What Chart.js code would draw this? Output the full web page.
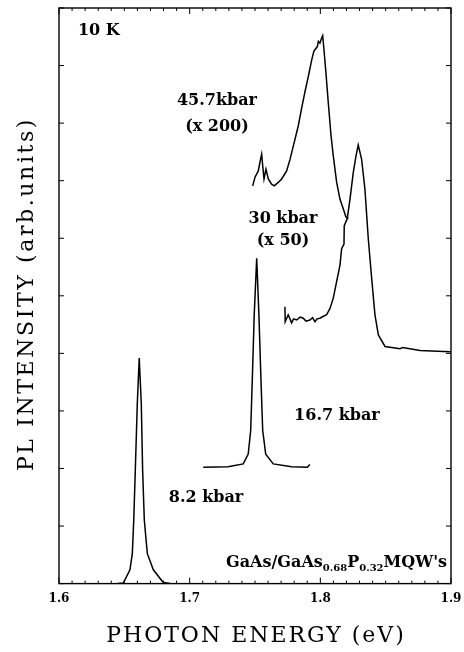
<!DOCTYPE html>
<html>
<head>
<meta charset="utf-8">
<script src="https://cdn.jsdelivr.net/npm/chart.js@4/dist/chart.umd.min.js"></script>
<style>
  body { margin: 0; background: #fff; }
  canvas { display: block; }
</style>
</head>
<body>
<canvas id="pl-chart" width="464" height="652"></canvas>
<script>
// 8.2 kbar
var energy82 = [1.645, 1.6492, 1.6543, 1.6561, 1.6572, 1.6584, 1.6599, 1.6614, 1.663, 1.664, 1.6653, 1.6676, 1.6722, 1.6798, 1.685];
var pl82 = [0, 0.01, 0.24, 0.52, 1.1, 1.97, 3.11, 3.92, 3.11, 1.97, 1.1, 0.52, 0.24, 0.02, 0];

// 16.7 kbar
var energy167 = [1.7104, 1.7293, 1.741, 1.7448, 1.7467, 1.7479, 1.7494, 1.7513, 1.753, 1.7546, 1.7559, 1.7582, 1.764, 1.778, 1.79, 1.792];
var pl167 = [2.02, 2.03, 2.08, 2.25, 2.66, 3.52, 4.67, 5.65, 4.67, 3.52, 2.66, 2.25, 2.08, 2.03, 2.02, 2.07];

// 30 kbar (x 50)
var energy30 = [1.7729, 1.7731, 1.7754, 1.778, 1.7795, 1.7819, 1.7845, 1.7869, 1.789, 1.792, 1.794, 1.7959, 1.7975, 1.7997, 1.802, 1.8048,
    1.8074, 1.8099, 1.8125, 1.815, 1.8163, 1.8181, 1.8183, 1.8206, 1.8227, 1.8252, 1.8273, 1.829, 1.8316, 1.8341, 1.8367, 1.8393,
    1.8418, 1.8444, 1.8495, 1.861, 1.863, 1.8763, 1.8992, 1.9];
var pl30 = [4.81, 4.55, 4.67, 4.53, 4.6, 4.58, 4.63, 4.61, 4.56, 4.58, 4.62, 4.55, 4.6, 4.61, 4.64, 4.67,
    4.78, 4.96, 5.25, 5.53, 5.82, 5.9, 6.22, 6.34, 6.68, 7.14, 7.43, 7.62, 7.37, 6.86, 5.99, 5.3,
    4.67, 4.32, 4.12, 4.08, 4.1, 4.05, 4.03, 4.03];

// 45.7 kbar (x 200)
var energy457 = [1.7482, 1.75, 1.7525, 1.7538, 1.7551, 1.7559, 1.7569, 1.7584, 1.7602, 1.7627, 1.7647, 1.7678, 1.7704, 1.7742,
    1.7768, 1.7793, 1.7831, 1.7857, 1.7883, 1.7908, 1.7934, 1.7951, 1.7977, 1.7985, 1.7997, 1.801, 1.8018, 1.8028, 1.8043,
    1.8061, 1.8082, 1.8099, 1.8125, 1.815, 1.8176, 1.8196, 1.8214];
var pl457 = [6.91, 7.06, 7.17, 7.32, 7.46, 7.26, 7.03, 7.2, 7.03, 6.94, 6.91, 6.97, 7.03, 7.17,
    7.37, 7.6, 7.95, 8.26, 8.55, 8.81, 9.1, 9.25, 9.33, 9.42, 9.39, 9.48, 9.52, 9.27, 8.87,
    8.35, 7.78, 7.43, 6.97, 6.68, 6.51, 6.37, 6.34];

var xTickLabels = [1.6, 1.7, 1.8, 1.9];

function toPoints(xs, ys) {
    return xs.map(function (x, i) { return { x: x, y: ys[i] }; });
}

// annotations: [text, x, y, align]
var notes = [
    ['10 K', 1.6145, 9.6, 'left'],
    ['45.7kbar', 1.7209, 8.39, 'center'],
    ['(x 200)', 1.7209, 7.94, 'center'],
    ['30 kbar', 1.7714, 6.34, 'center'],
    ['(x 50)', 1.7714, 5.96, 'center'],
    ['16.7 kbar', 1.8127, 2.91, 'center'],
    ['8.2 kbar', 1.7125, 1.49, 'center']
];

var serif = '"DejaVu Serif", "Liberation Serif", serif';

var framePlugin = {
    id: 'frame',
    beforeDraw: function (chart) {
        var ctx = chart.ctx;
        ctx.save();
        ctx.fillStyle = '#fff';
        ctx.fillRect(0, 0, chart.width, chart.height);
        ctx.restore();
    },
    afterDraw: function (chart) {
        var ctx = chart.ctx;
        var a = chart.chartArea;
        var xs = chart.scales.x, ys = chart.scales.y;
        ctx.save();
        ctx.strokeStyle = '#000';
        ctx.lineWidth = 1.4;
        ctx.strokeRect(a.left, a.top, a.right - a.left, a.bottom - a.top);

        // inward ticks
        ctx.lineWidth = 1;
        ctx.beginPath();
        for (var k = 0; k <= 30; k++) {
            var px = xs.getPixelForValue(1.6 + k * 0.01);
            var len = (k % 10 === 0) ? 6 : 3;
            ctx.moveTo(px, a.bottom); ctx.lineTo(px, a.bottom - len);
            ctx.moveTo(px, a.top); ctx.lineTo(px, a.top + len);
        }
        for (var j = 0; j <= 10; j++) {
            var py = ys.getPixelForValue(j);
            ctx.moveTo(a.left, py); ctx.lineTo(a.left + 5, py);
            ctx.moveTo(a.right, py); ctx.lineTo(a.right - 5, py);
        }
        ctx.stroke();

        // curve labels
        ctx.fillStyle = '#000';
        ctx.textBaseline = 'middle';
        ctx.font = 'bold 16px ' + serif;
        notes.forEach(function (n) {
            ctx.textAlign = n[3];
            ctx.fillText(n[0], xs.getPixelForValue(n[1]), ys.getPixelForValue(n[2]));
        });

        // sample label with subscripts
        var parts = [['GaAs/GaAs', 0], ['0.68', 1], ['P', 0], ['0.32', 1], ["MQW's", 0]];
        var mainFont = 'bold 16px ' + serif, subFont = 'bold 10px ' + serif;
        var total = 0;
        parts.forEach(function (p) {
            ctx.font = p[1] ? subFont : mainFont;
            total += ctx.measureText(p[0]).width;
        });
        var cx = xs.getPixelForValue(1.897) - total;
        var base = ys.getPixelForValue(0.28);
        ctx.textAlign = 'left';
        ctx.textBaseline = 'alphabetic';
        parts.forEach(function (p) {
            ctx.font = p[1] ? subFont : mainFont;
            ctx.fillText(p[0], cx, base + (p[1] ? 4 : 0));
            cx += ctx.measureText(p[0]).width;
        });

        // axis titles
        ctx.font = '22px ' + serif;
        ctx.textAlign = 'center';
        ctx.textBaseline = 'middle';
        ctx.letterSpacing = '2px';
        ctx.fillText('PHOTON ENERGY (eV)', (a.left + a.right) / 2 + 1, 636);
        ctx.translate(27, 294);
        ctx.rotate(-Math.PI / 2);
        ctx.letterSpacing = '2.6px';
        ctx.fillText('PL INTENSITY (arb.units)', 0, 0);
        ctx.restore();
    }
};

function series(xs, ys) {
    return {
        data: toPoints(xs, ys),
        borderColor: '#000',
        borderWidth: 1.5,
        pointRadius: 0,
        tension: 0,
        fill: false
    };
}

var ctxPl = document.getElementById('pl-chart').getContext('2d');
var chartPl = new Chart(ctxPl, {
    type: 'line',
    data: {
        datasets: [
            series(energy82, pl82),
            series(energy167, pl167),
            series(energy30, pl30),
            series(energy457, pl457)
        ]
    },
    options: {
        responsive: false,
        animation: false,
        layout: { padding: { left: 59, right: 13, top: 8, bottom: 38 } },
        plugins: { legend: { display: false }, tooltip: { enabled: false } },
        scales: {
            x: {
                type: 'linear',
                min: 1.6,
                max: 1.9,
                afterBuildTicks: function (scale) {
                    scale.ticks = xTickLabels.map(function (v) { return { value: v }; });
                },
                afterFit: function (scale) {
                    scale.paddingLeft = 0;
                    scale.paddingRight = 0;
                },
                grid: { display: false, drawTicks: false },
                border: { display: false },
                ticks: {
                    padding: 8,
                    color: '#000',
                    maxRotation: 0,
                    font: { family: serif, weight: 'bold', size: 12 },
                    callback: function (v) { return Number(v).toFixed(1); }
                }
            },
            y: {
                min: 0,
                max: 10,
                ticks: { display: false },
                grid: { display: false, drawTicks: false },
                border: { display: false }
            }
        }
    },
    plugins: [framePlugin]
});
</script>
</body>
</html>
